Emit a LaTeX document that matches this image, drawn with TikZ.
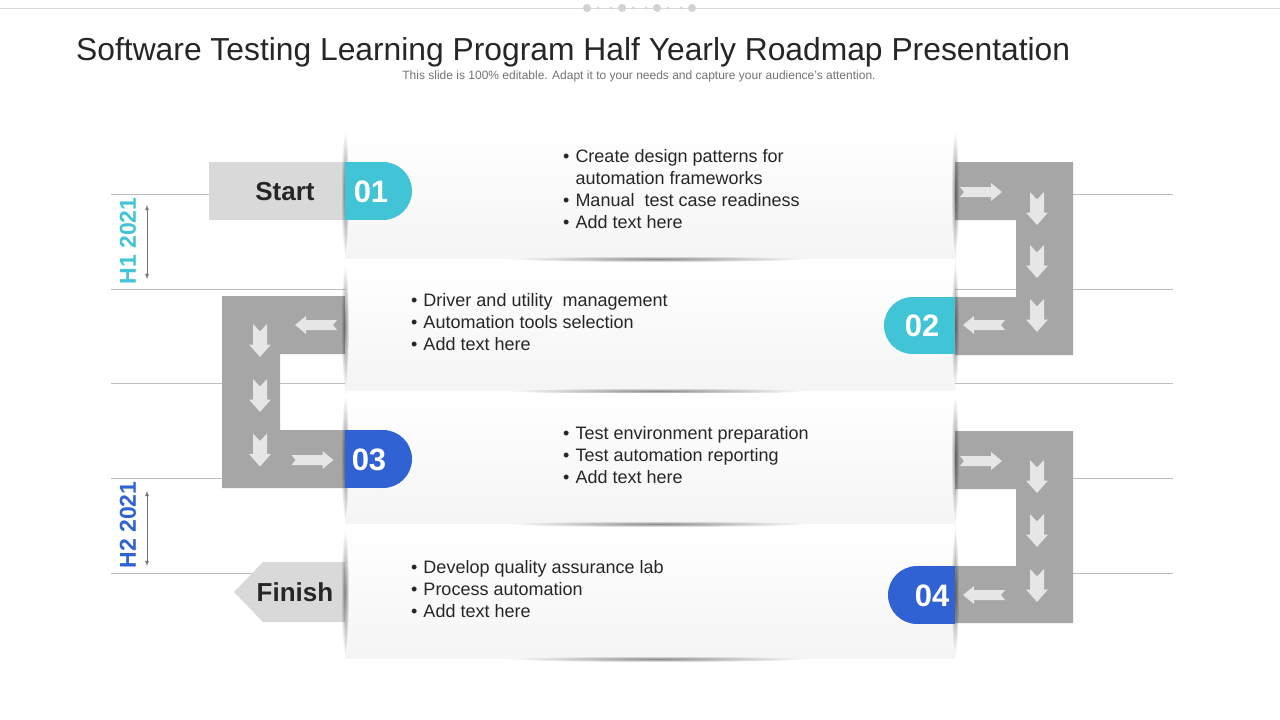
\documentclass[tikz,border=0pt]{standalone}
\usepackage{fontspec}
\setmainfont{Liberation Sans}
\usetikzlibrary{positioning, fadings, calc}

\definecolor{tealbadge}{HTML}{41C4D5}
\definecolor{bluebadge}{HTML}{3062D4}
\definecolor{roadgray}{HTML}{A6A6A6}
\definecolor{tabgray}{HTML}{D9D9D9}
\definecolor{arrowfill}{HTML}{E6E6E6}
\definecolor{linegray}{HTML}{BFBFBF}
\definecolor{textdark}{HTML}{262626}

\tikzfading[name=softedge, inner color=transparent!0, outer color=transparent!100]

\tikzset{
  panel/.style={top color=white, bottom color=gray!8},
  road/.style={fill=roadgray, even odd rule},
  edgeshade/.style={fill=black, fill opacity=0.45, path fading=softedge},
  bullets/.style={anchor=base west, inner sep=0pt, text=textdark, font=\fontsize{18}{22}\selectfont},
  numtext/.style={text=white, font=\fontsize{31}{31}\selectfont\bfseries},
  tabtext/.style={text=textdark, font=\fontsize{26}{26}\selectfont\bfseries},
  halftext/.style={rotate=90, font=\fontsize{23}{23}\selectfont\bfseries},
  harrow/.pic={\fill[arrowfill] (-21,-5) -- (10,-5) -- (10,-9) -- (21,0) -- (10,9) -- (10,5) -- (-21,5) -- (-17,0) -- cycle;},
  varrow/.pic={\fill[arrowfill] (-7,-16.5) -- (0,-9) -- (7,-16.5) -- (7,4) -- (11,4) -- (0,16.5) -- (-11,4) -- (-7,4) -- cycle;}
}

\begin{document}
\begin{tikzpicture}[x=1pt, y=-1pt]
  \fill[white] (0,0) rectangle (1280,720);
  \useasboundingbox (0,0) rectangle (1280,720);

  % top rule with dots
  \draw[gray!30, line width=1pt] (0,8) -- (1280,8);
  \foreach \x in {587,622,657,692} \fill[gray!35] (\x,8) circle (4);
  \foreach \x in {598,611,633,646,668,681} \fill[gray!35] (\x,8) circle (1.5);

  \node[anchor=base west, inner sep=0pt, text=textdark, font=\fontsize{31.8}{36}\selectfont] (title) at (76,60) {Software Testing Learning Program Half Yearly Roadmap Presentation};
  \node[text=black!55, font=\fontsize{12}{14}\selectfont] (subtitle) at (639,76) {This slide is 100\% editable. Adapt it to your needs and capture your audience's attention.};

  % guide lines
  \foreach \y in {194,289,383,478,573} \draw[linegray, line width=1pt] (111,\y) -- (1173,\y);

  % roads
  \fill[road] (222,296) rectangle (345,488) (280,354) rectangle (345,430);
  \fill[road] (955,162) rectangle (1073,355) (955,220) rectangle (1016,297);
  \fill[road] (955,431) rectangle (1073,623) (955,489) rectangle (1016,566);

  \pic at (981,192) {harrow};
  \foreach \y in {208.5,261.5,315.5} \pic at (1037,\y) {varrow};
  \pic[xscale=-1] at (984,325) {harrow};
  \pic[xscale=-1] at (316,325) {harrow};
  \foreach \y in {340.5,395.5,450} \pic at (260,\y) {varrow};
  \pic at (312.5,460) {harrow};
  \pic at (981,461) {harrow};
  \foreach \y in {476.5,530.5,585.5} \pic at (1037,\y) {varrow};
  \pic[xscale=-1] at (984,595) {harrow};

  % start and finish tabs
  \fill[tabgray] (209,162) rectangle (345,220);
  \node[tabtext] (start) at (285,192) {Start};
  \fill[tabgray] (345,562) -- (263,562) -- (234,592) -- (263,622) -- (345,622) -- cycle;
  \node[tabtext] (finish) at (295,592) {Finish};

  % panels
  \foreach \t/\b in {128/258, 262/390, 393/523, 527/658} {
    \shade[panel] (345,\t) rectangle (955,\b);
    \fill[edgeshade] (345,{(\t+\b)/2}) ellipse [x radius=4, y radius={(\b-\t)*0.48}];
    \fill[edgeshade] (955,{(\t+\b)/2}) ellipse [x radius=4, y radius={(\b-\t)*0.48}];
    \fill[edgeshade] (658,\b+1) ellipse [x radius=150, y radius=3];
  }

  % badges
  \fill[tealbadge] (345,162) rectangle (383,220);
  \fill[tealbadge] (383,191) circle (29);
  \node[numtext] (n01) at (371,192) {01};
  \fill[tealbadge] (912.5,297) rectangle (955,354);
  \fill[tealbadge] (912.5,325.5) circle (28.5);
  \node[numtext] (n02) at (922,326) {02};
  \fill[bluebadge] (345,430) rectangle (383,488);
  \fill[bluebadge] (383,459) circle (29);
  \node[numtext] (n03) at (369,460) {03};
  \fill[bluebadge] (917,566) rectangle (955,624);
  \fill[bluebadge] (917,595) circle (29);
  \node[numtext] (n04) at (932,596) {04};

  % lists
  \node[bullets] (list1) at (563,162) {\begin{tabular}[t]{@{}l@{\hspace{6pt}}l@{}}\textbullet & Create design patterns for\\ & automation frameworks\\ \textbullet & Manual\ \ test case readiness\\ \textbullet & Add text here\end{tabular}};
  \node[bullets] (list2) at (411,306) {\begin{tabular}[t]{@{}l@{\hspace{6pt}}l@{}}\textbullet & Driver and utility\ \ management\\ \textbullet & Automation tools selection\\ \textbullet & Add text here\end{tabular}};
  \node[bullets] (list3) at (563,439) {\begin{tabular}[t]{@{}l@{\hspace{6pt}}l@{}}\textbullet & Test environment preparation\\ \textbullet & Test automation reporting\\ \textbullet & Add text here\end{tabular}};
  \node[bullets] (list4) at (411,573) {\begin{tabular}[t]{@{}l@{\hspace{6pt}}l@{}}\textbullet & Develop quality assurance lab\\ \textbullet & Process automation\\ \textbullet & Add text here\end{tabular}};

  % half-year markers
  \node[halftext, text=tealbadge] (h1) at (128,241) {H1 2021};
  \node[halftext, text=bluebadge] (h2) at (128,525) {H2 2021};
  \coordinate (h1top) at (147,205);
  \coordinate (h1bot) at (147,279);
  \coordinate (h2top) at (147,491);
  \coordinate (h2bot) at (147,566);
  \draw[latex-latex, black!55, line width=0.8pt] (h1top) -- (h1bot);
  \draw[latex-latex, black!55, line width=0.8pt] (h2top) -- (h2bot);
\end{tikzpicture}
\end{document}
